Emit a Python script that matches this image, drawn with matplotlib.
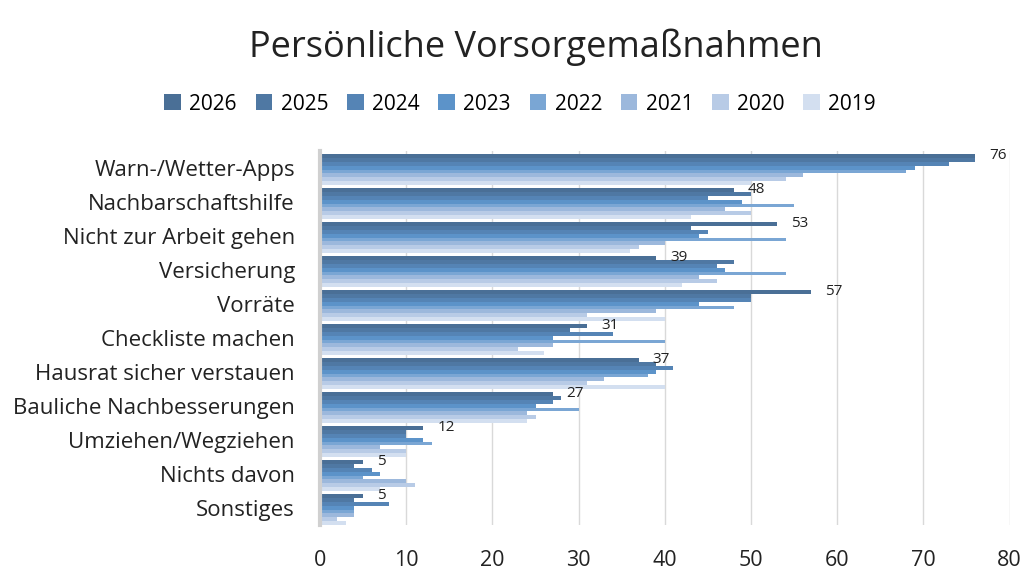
import numpy as np
import matplotlib
matplotlib.use('Agg')
import matplotlib.pyplot as plt

plt.rcParams['font.family'] = ['Open Sans', 'DejaVu Sans']

# Kategorien von oben nach unten
kategorien = ['Warn-/Wetter-Apps', 'Nachbarschaftshilfe', 'Nicht zur Arbeit gehen',
              'Versicherung', 'Vorräte', 'Checkliste machen', 'Hausrat sicher verstauen',
              'Bauliche Nachbesserungen', 'Umziehen/Wegziehen', 'Nichts davon', 'Sonstiges']

jahre = ['2026', '2025', '2024', '2023', '2022', '2021', '2020', '2019']

w2026 = [76, 48, 53, 39, 57, 31, 37, 27, 12, 5, 5]
w2025 = [76, 50, 43, 48, 50, 29, 39, 28, 10, 4, 4]
w2024 = [73, 45, 45, 46, 50, 34, 41, 27, 10, 6, 8]
w2023 = [69, 49, 44, 47, 44, 27, 39, 25, 12, 7, 4]
w2022 = [68, 55, 54, 54, 48, 40, 38, 30, 13, 5, 4]
w2021 = [56, 47, 40, 44, 39, 27, 33, 24, 7, 10, 4]
w2020 = [54, 50, 37, 46, 31, 23, 31, 25, 10, 11, 2]
w2019 = [50, 43, 36, 42, 40, 26, 40, 24, 10, 7, 3]

werte = [w2026, w2025, w2024, w2023, w2022, w2021, w2020, w2019]
farben = ['#4a6f96', '#4f78a3', '#5584b5', '#5c93c9', '#7aa6d4', '#9cb8dc', '#b8cbe6', '#d3dff0']

fig = plt.figure(figsize=(10.24, 5.85), dpi=100)
ax = fig.add_axes([0.3125, 0.1026, 0.6735, 0.6394])

y = np.arange(len(kategorien))
h = 0.112
for j, (jahr, vals) in enumerate(zip(jahre, werte)):
    ax.barh(y + (j - 3.5) * h + 0.05, vals, height=h, color=farben[j], label=jahr, zorder=2)

# Datenbeschriftung für 2026
for i, v in enumerate(w2026):
    ax.text(v + 1.6, y[i] - 3.5 * h + 0.02, str(v), fontsize=11, color='#222222',
            va='center', ha='left', zorder=3)

ax.set_xlim(0, 80)
ax.set_ylim(len(kategorien) - 0.5, -0.5)
ax.set_xticks(range(0, 81, 10))
ax.set_yticks(y)
ax.set_yticklabels(kategorien, fontsize=16, color='#222222')
ax.tick_params(axis='x', labelsize=15.5, colors='#222222', length=0, pad=18)
ax.tick_params(axis='y', length=0, pad=18)
ax.grid(axis='x', color='#d9d9d9', linewidth=1, zorder=0)
for s in ['top', 'right', 'bottom']:
    ax.spines[s].set_visible(False)
ax.spines['left'].set_color('#d0d0d0')
ax.spines['left'].set_linewidth(3)

fig.text(0.523, 0.92, 'Persönliche Vorsorgemaßnahmen', fontsize=26, ha='center',
         va='center', color='#222222')

handles, labels = ax.get_legend_handles_labels()
fig.legend(handles, labels, loc='center', bbox_to_anchor=(0.508, 0.822), ncol=8,
           frameon=False, fontsize=15, handlelength=0.8, handleheight=0.8,
           handletextpad=0.4, columnspacing=0.9)

fig.savefig('out.png', dpi=100)
